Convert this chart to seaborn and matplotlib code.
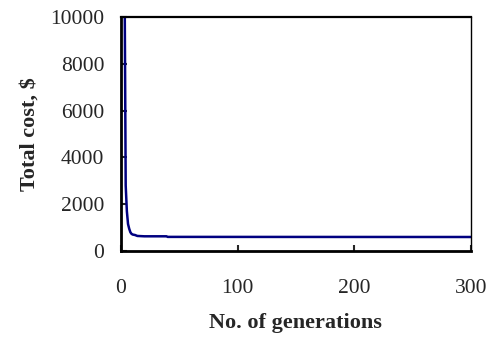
import pandas as pd
import matplotlib.pyplot as plt
import seaborn as sns

# convergence of the GA: best total cost per generation
generations = [0, 1, 2, 3, 4, 5, 6, 7, 8, 9, 10, 12, 14, 20, 39, 40, 300]
total_cost = [30000, 24000, 18000, 12000, 2800, 1700, 1150, 950, 800, 730, 700, 680, 640, 625, 625, 600, 595]

df = pd.DataFrame({'gen': generations, 'cost': total_cost})

sns.set_style('white')
plt.rcParams['font.family'] = ['Liberation Serif', 'DejaVu Serif']

fig = plt.figure(figsize=(4.94, 3.40), dpi=100)
ax = fig.add_axes([0.245, 0.262, 0.708, 0.688])

sns.lineplot(data=df, x='gen', y='cost', color='#000080', linewidth=1.8, ax=ax)

ax.set_xlim(0, 300)
ax.set_ylim(0, 10000)
ax.set_xticks([0, 100, 200, 300])
ax.set_yticks([0, 2000, 4000, 6000, 8000, 10000])

ax.tick_params(axis='y', direction='in', length=4, width=1.5, pad=12, labelsize=15.5, left=True)
ax.tick_params(axis='x', direction='in', length=4, width=1.5, pad=20, labelsize=15.5, bottom=True)

ax.set_xlabel('No. of generations', fontsize=16, fontweight='bold', labelpad=11)
ax.set_ylabel('Total cost, $', fontsize=16, fontweight='bold', labelpad=8)

for side, lw in [('left', 2.0), ('bottom', 2.0), ('top', 1.6), ('right', 1.0)]:
    ax.spines[side].set_visible(True)
    ax.spines[side].set_color('black')
    ax.spines[side].set_linewidth(lw)

fig.savefig('out.png', dpi=100)
